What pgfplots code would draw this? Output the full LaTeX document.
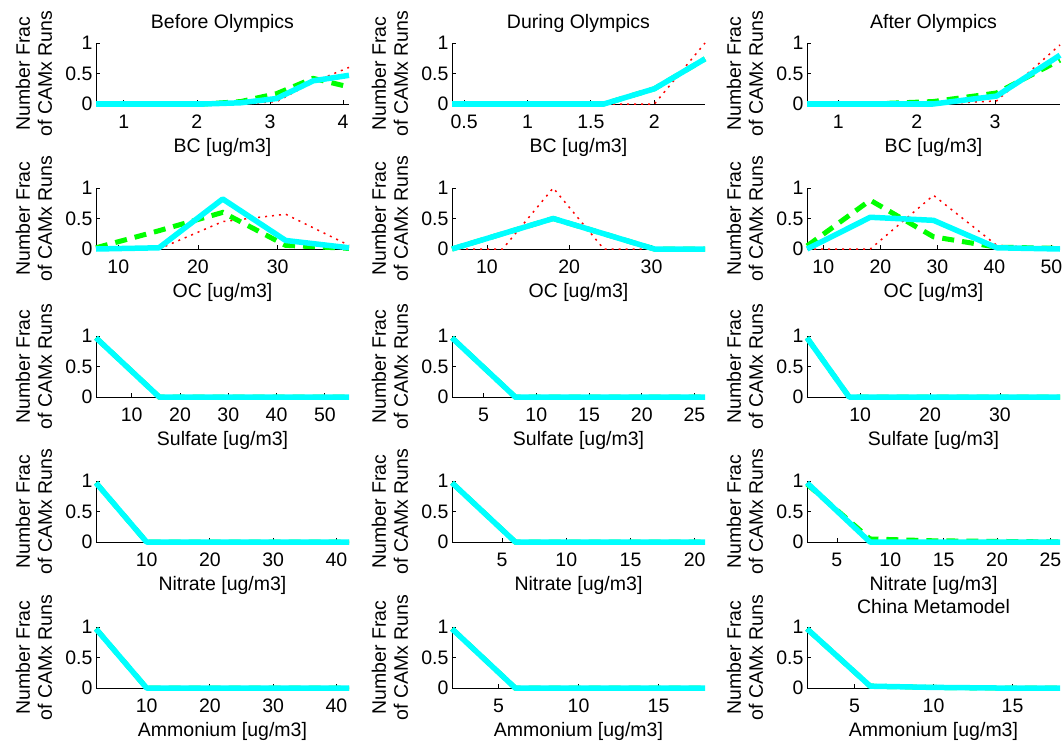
\documentclass[border=0pt]{standalone}
\usepackage{fontspec}
\setmainfont{Liberation Sans}
\usepackage{pgfplots}
\pgfplotsset{compat=1.18}
\definecolor{mcyan}{rgb}{0,1,1}
\definecolor{mgreen}{rgb}{0,1,0}
\definecolor{mred}{rgb}{1,0,0}
\newcommand{\ff}{\fontsize{19.5}{22}\selectfont}
\pgfplotsset{
  panel/.style={
    scale only axis, width=253pt, height=61pt,
    anchor=south west,
    ymin=0, ymax=1, ytick={0,0.5,1},
    axis x line*=bottom, axis y line*=left,
    axis line style={-, black, line width=0.8pt},
    tick align=inside, major tick length=4pt,
    tick style={black, line width=0.8pt},
    clip=false,
    /pgf/number format/assume math mode=true,
    tick label style={font=\ff},
    xticklabel style={anchor=base, yshift=-24pt},
    yticklabel style={anchor=east},
    every axis title/.style={at={(axis description cs:0.5,1)}, anchor=base, yshift=14pt, font=\ff},
    every axis x label/.style={at={(axis description cs:0.5,0)}, anchor=base, yshift=-48pt, font=\ff},
    every axis y label/.style={at={(axis description cs:0,0.5)}, xshift=-62pt, rotate=90, anchor=center, align=center, font=\ff},
    ylabel={Number Frac\\of CAMx Runs},
  },
  rs/.style={color=mred, line width=1.5pt, dash pattern=on 2pt off 5pt, mark=none},
  gs/.style={color=mgreen, line width=5pt, dash pattern=on 12pt off 8pt, mark=none},
  cs/.style={color=mcyan, line width=5.5pt, line join=round, mark=none},
}
\begin{document}
\begin{tikzpicture}
\useasboundingbox (0,0) rectangle (1064pt,-741pt);
% ---------- Row 1: BC ----------
\begin{axis}[panel, at={(96pt,-104pt)}, xmin=0.62, xmax=4.08, xtick={1,2,3,4},
  title={Before Olympics}, xlabel={BC [ug/m3]}]
\addplot[rs] coordinates {(0.62,0)(1.11,0)(1.61,0)(2.10,0)(2.60,0)(3.09,0.04)(3.59,0.36)(4.08,0.60)};
\addplot[gs] coordinates {(0.62,0)(1.11,0)(1.61,0)(2.10,0)(2.60,0.04)(3.09,0.17)(3.59,0.42)(4.08,0.28)};
\addplot[cs] coordinates {(0.62,0)(1.11,0)(1.61,0)(2.10,0)(2.60,0.02)(3.09,0.09)(3.59,0.38)(4.08,0.47)};
\end{axis}
\begin{axis}[panel, at={(452pt,-104pt)}, xmin=0.405, xmax=2.40, xtick={0.5,1,1.5,2},
  xticklabels={0.5,1,1.5,2},
  title={During Olympics}, xlabel={BC [ug/m3]}]
\addplot[rs] coordinates {(0.405,0)(0.804,0)(1.203,0)(1.602,0)(2.001,0)(2.40,1.0)};
\addplot[gs] coordinates {(0.405,0)(0.804,0)(1.203,0)(1.602,0)(2.001,0.25)(2.40,0.74)};
\addplot[cs] coordinates {(0.405,0)(0.804,0)(1.203,0)(1.602,0)(2.001,0.25)(2.40,0.74)};
\end{axis}
\begin{axis}[panel, at={(807pt,-104pt)}, xmin=0.60, xmax=3.83, xtick={1,2,3},
  title={After Olympics}, xlabel={BC [ug/m3]}]
\addplot[rs] coordinates {(0.60,0)(1.41,0)(2.21,0)(3.02,0.05)(3.83,0.97)};
\addplot[gs] coordinates {(0.60,0)(1.41,0)(2.21,0.04)(3.02,0.18)(3.83,0.72)};
\addplot[cs] coordinates {(0.60,0)(1.41,0)(2.21,0)(3.02,0.13)(3.83,0.80)};
\end{axis}
% ---------- Row 2: OC ----------
\begin{axis}[panel, at={(96pt,-249pt)}, xmin=7.2, xmax=38.95, xtick={10,20,30},
  xlabel={OC [ug/m3]}]
\addplot[rs] coordinates {(7.2,0)(15.1,0)(23.1,0.45)(31.0,0.57)(38.95,0.06)};
\addplot[gs] coordinates {(7.2,0.02)(15.1,0.30)(23.1,0.60)(31.0,0.06)(38.95,0.01)};
\addplot[cs] coordinates {(7.2,0)(15.1,0.02)(23.1,0.82)(31.0,0.14)(38.95,0.02)};
\end{axis}
\begin{axis}[panel, at={(452pt,-249pt)}, xmin=5.75, xmax=36.5, xtick={10,20,30},
  xlabel={OC [ug/m3]}]
\addplot[rs] coordinates {(5.75,0)(11.9,0)(18.05,1.0)(24.2,0)(30.35,0)(36.5,0)};
\addplot[gs] coordinates {(5.75,0)(11.9,0.25)(18.05,0.5)(24.2,0.25)(30.35,0)(36.5,0)};
\addplot[cs] coordinates {(5.75,0)(11.9,0.25)(18.05,0.5)(24.2,0.25)(30.35,0)(36.5,0)};
\end{axis}
\begin{axis}[panel, at={(807pt,-249pt)}, xmin=7.14, xmax=51.5, xtick={10,20,30,40,50},
  xlabel={OC [ug/m3]}]
\addplot[rs] coordinates {(7.14,0)(18.23,0)(29.32,0.88)(40.41,0.06)(51.5,0)};
\addplot[gs] coordinates {(7.14,0.05)(18.23,0.80)(29.32,0.20)(40.41,0.03)(51.5,0.01)};
\addplot[cs] coordinates {(7.14,0)(18.23,0.52)(29.32,0.47)(40.41,0.02)(51.5,0)};
\end{axis}
% ---------- Row 3: Sulfate ----------
\begin{axis}[panel, at={(96pt,-397pt)}, xmin=2.6, xmax=55, xtick={10,20,30,40,50},
  xlabel={Sulfate [ug/m3]}]
\addplot[rs] coordinates {(2.6,0.97)(15.7,0)(28.8,0)(41.9,0)(55,0)};
\addplot[gs] coordinates {(2.6,0.97)(15.7,0)(28.8,0)(41.9,0)(55,0)};
\addplot[cs] coordinates {(2.6,0.97)(15.7,0)(28.8,0)(41.9,0)(55,0)};
\end{axis}
\begin{axis}[panel, at={(452pt,-397pt)}, xmin=2, xmax=26, xtick={5,10,15,20,25},
  xlabel={Sulfate [ug/m3]}]
\addplot[rs] coordinates {(2,0.97)(8,0)(14,0)(20,0)(26,0)};
\addplot[gs] coordinates {(2,0.97)(8,0)(14,0)(20,0)(26,0)};
\addplot[cs] coordinates {(2,0.97)(8,0)(14,0)(20,0)(26,0)};
\end{axis}
\begin{axis}[panel, at={(807pt,-397pt)}, xmin=2.4, xmax=38.6, xtick={10,20,30},
  xlabel={Sulfate [ug/m3]}]
\addplot[rs] coordinates {(2.4,0.97)(8.43,0)(14.47,0)(20.5,0)(26.53,0)(32.57,0)(38.6,0)};
\addplot[gs] coordinates {(2.4,0.97)(8.43,0)(14.47,0)(20.5,0)(26.53,0)(32.57,0)(38.6,0)};
\addplot[cs] coordinates {(2.4,0.97)(8.43,0)(14.47,0)(20.5,0)(26.53,0)(32.57,0)(38.6,0)};
\end{axis}
% ---------- Row 4: Nitrate ----------
\begin{axis}[panel, at={(96pt,-542pt)}, xmin=2, xmax=42, xtick={10,20,30,40},
  xlabel={Nitrate [ug/m3]}]
\addplot[rs] coordinates {(2,0.97)(10,0)(18,0)(26,0)(34,0)(42,0)};
\addplot[gs] coordinates {(2,0.97)(10,0)(18,0)(26,0)(34,0)(42,0)};
\addplot[cs] coordinates {(2,0.97)(10,0)(18,0)(26,0)(34,0)(42,0)};
\end{axis}
\begin{axis}[panel, at={(452pt,-542pt)}, xmin=1.1, xmax=20.8, xtick={5,10,15,20},
  xlabel={Nitrate [ug/m3]}]
\addplot[rs] coordinates {(1.1,0.97)(6.03,0)(10.95,0)(15.88,0)(20.8,0)};
\addplot[gs] coordinates {(1.1,0.97)(6.03,0)(10.95,0)(15.88,0)(20.8,0)};
\addplot[cs] coordinates {(1.1,0.97)(6.03,0)(10.95,0)(15.88,0)(20.8,0)};
\end{axis}
\begin{axis}[panel, at={(807pt,-542pt)}, xmin=2.2, xmax=25.9, xtick={5,10,15,20,25},
  xlabel={Nitrate [ug/m3]}]
\addplot[rs] coordinates {(2.2,0.97)(8.1,0)(14.0,0)(19.9,0)(25.9,0)};
\addplot[gs] coordinates {(2.2,0.95)(8.1,0.05)(14.0,0.02)(19.9,0.01)(25.9,0)};
\addplot[cs] coordinates {(2.2,0.97)(8.1,0)(14.0,0)(19.9,0)(25.9,0)};
\end{axis}
% ---------- Row 5: Ammonium ----------
\begin{axis}[panel, at={(96pt,-688pt)}, xmin=2, xmax=42, xtick={10,20,30,40},
  xlabel={Ammonium [ug/m3]}]
\addplot[rs] coordinates {(2,0.97)(10,0)(18,0)(26,0)(34,0)(42,0)};
\addplot[gs] coordinates {(2,0.97)(10,0)(18,0)(26,0)(34,0)(42,0)};
\addplot[cs] coordinates {(2,0.97)(10,0)(18,0)(26,0)(34,0)(42,0)};
\end{axis}
\begin{axis}[panel, at={(452pt,-688pt)}, xmin=2.1, xmax=17.9, xtick={5,10,15},
  xlabel={Ammonium [ug/m3]}]
\addplot[rs] coordinates {(2.1,0.97)(6.05,0)(10,0)(13.95,0)(17.9,0)};
\addplot[gs] coordinates {(2.1,0.97)(6.05,0)(10,0)(13.95,0)(17.9,0)};
\addplot[cs] coordinates {(2.1,0.97)(6.05,0)(10,0)(13.95,0)(17.9,0)};
\end{axis}
\begin{axis}[panel, at={(807pt,-688pt)}, xmin=2, xmax=18, xtick={5,10,15},
  title={China Metamodel}, xlabel={Ammonium [ug/m3]}]
\addplot[rs] coordinates {(2,0.97)(6,0.03)(10,0.01)(14,0)(18,0)};
\addplot[gs] coordinates {(2,0.97)(6,0.03)(10,0.01)(14,0)(18,0)};
\addplot[cs] coordinates {(2,0.97)(6,0.03)(10,0.01)(14,0)(18,0)};
\end{axis}
\end{tikzpicture}
\end{document}
